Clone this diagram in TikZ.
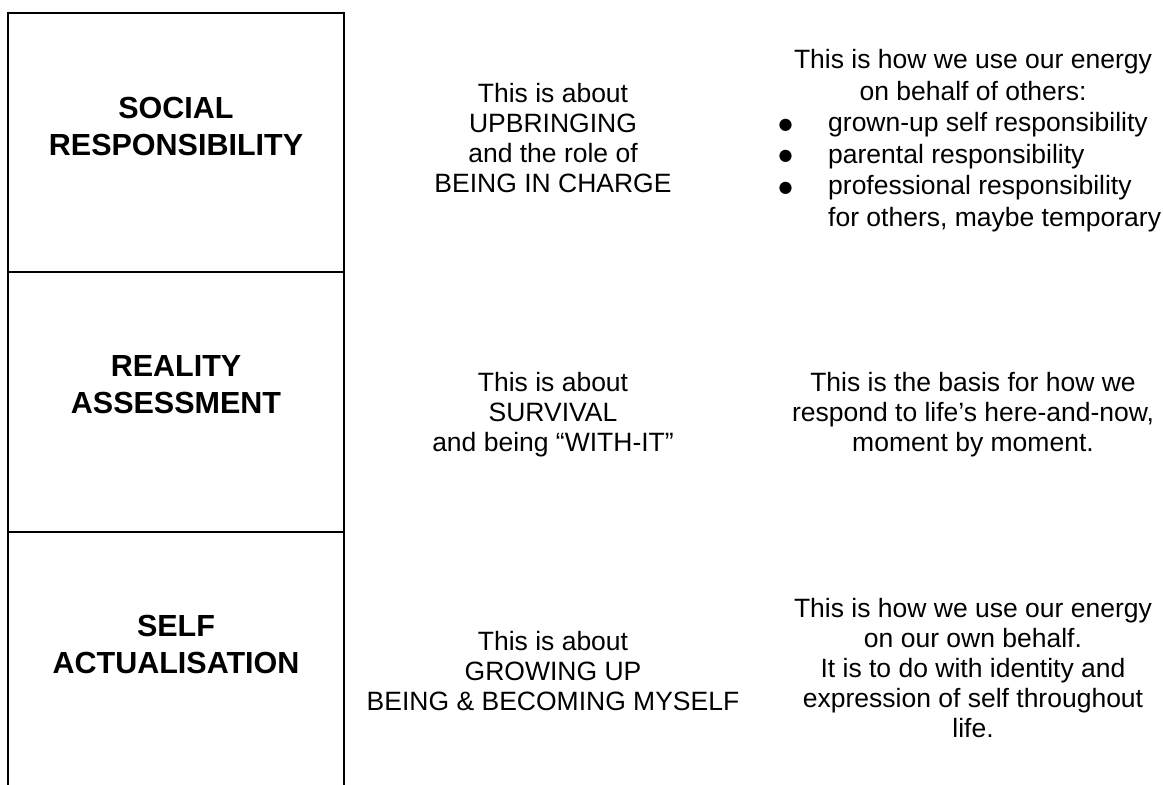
\documentclass[tikz,border=0pt]{standalone}
\usepackage{fontspec}
\setmainfont{Liberation Sans}
\newfontfamily\symfont{DejaVu Sans}
\newcommand{\bul}{\makebox[48pt][l]{\hspace*{-1.5pt}\raisebox{2.5pt}{\symfont\fontsize{16}{16}\selectfont ●}}}
\begin{document}
\begin{tikzpicture}[x=1pt,y=-1pt,
  body/.style={inner sep=0pt, align=center, font=\fontsize{26.5}{30}\selectfont, anchor=base},
  bodywide/.style={inner sep=0pt, align=center, font=\fontsize{26.5}{31.5}\selectfont, anchor=base},
  listtext/.style={inner sep=0pt, align=left, font=\fontsize{26.5}{31.5}\selectfont, anchor=base west},
  heading/.style={inner sep=0pt, align=center, font=\fontsize{30.5}{36.5}\selectfont\bfseries, anchor=base},
  frame/.style={line width=1.8pt, line cap=rect}]
\useasboundingbox (0,0) rectangle (1163,785);
\fill[white] (0,0) rectangle (1163,785);
% frame
\draw[frame] (8,790) -- (8,13) -- (344,13) -- (344,790);
\draw[frame] (8,272) -- (344,272);
\draw[frame] (8,532) -- (344,532);
% headings (anchor = baseline of last line)
\node[heading] (h1) at (176,155) {SOCIAL\\RESPONSIBILITY};
\node[heading] (h2) at (176,413) {REALITY\\ASSESSMENT};
\node[heading] (h3) at (176,673) {SELF\\ACTUALISATION};
% middle column
\node[body] (m1) at (553,192) {This is about\\UPBRINGING\\and the role of\\BEING IN CHARGE};
\node[body] (m2) at (553,451) {This is about\\SURVIVAL\\and being “WITH-IT”};
\node[body] (m3) at (553,710) {This is about\\GROWING UP\\BEING \& BECOMING MYSELF};
% right column
\node[bodywide] (r1) at (973,100) {This is how we use our energy\\on behalf of others:};
\node[listtext] (r1l) at (780,226) {\bul grown-up self responsibility\\\bul parental responsibility\\\bul professional responsibility\\\hspace*{48pt}for others, maybe temporary};
\node[body] (r2) at (973,451) {This is the basis for how we\\respond to life’s here-and-now,\\moment by moment.};
\node[body] (r3) at (973,737) {This is how we use our energy\\on our own behalf.\\It is to do with identity and\\expression of self throughout\\life.};
\end{tikzpicture}
\end{document}
